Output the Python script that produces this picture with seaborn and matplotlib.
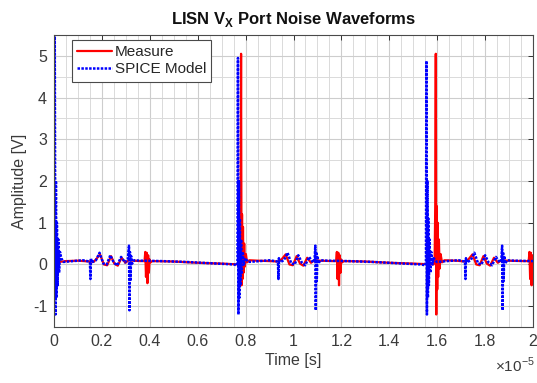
import numpy as np
import pandas as pd
import matplotlib
matplotlib.use("Agg")
import matplotlib.pyplot as plt
from matplotlib.ticker import MultipleLocator, FuncFormatter
import seaborn as sns

# Measured LISN V_X waveform (time in units of 10 us, amplitude in V)
t_measure = [
    0.000, 0.002, 0.004, 0.007, 0.010, 0.020, 0.050, 0.100, 0.150, 0.165,
    0.175, 0.192, 0.208, 0.222, 0.238, 0.252, 0.266, 0.282, 0.298, 0.312, 0.330, 0.360,
    0.378, 0.381, 0.384, 0.387, 0.390, 0.393, 0.396, 0.399, 0.403, 0.410,
    0.500, 0.600, 0.700, 0.772,
    0.776, 0.779, 0.781, 0.783, 0.785, 0.787, 0.789, 0.791, 0.794, 0.797, 0.801, 0.806,
    0.815, 0.850, 0.900, 0.935,
    0.950, 0.967, 0.983, 0.997, 1.013, 1.027, 1.041, 1.057, 1.073, 1.088, 1.110, 1.160,
    1.178, 1.181, 1.184, 1.187, 1.190, 1.193, 1.196, 1.199, 1.203, 1.210,
    1.300, 1.400, 1.500, 1.585,
    1.589, 1.592, 1.594, 1.596, 1.598, 1.600, 1.602, 1.604, 1.607, 1.610, 1.614, 1.620,
    1.630, 1.680, 1.715,
    1.730, 1.747, 1.763, 1.777, 1.793, 1.807, 1.821, 1.837, 1.853, 1.868, 1.890, 1.960,
    1.982, 1.985, 1.988, 1.991, 1.994, 1.997, 2.000,
]
v_measure = [
    0.60, -0.40, 0.30, -0.10, 0.10, 0.06, 0.08, 0.09, 0.07, 0.06,
    0.12, 0.24, 0.00, -0.02, 0.20, 0.02, -0.03, 0.16, 0.04, 0.10, 0.09, 0.08,
    0.08, 0.30, -0.30, 0.28, -0.45, 0.22, -0.20, 0.12, 0.05, 0.08,
    0.07, 0.04, 0.02, 0.00,
    0.05, 1.50, 5.05, -0.50, 1.20, -0.35, 0.90, -0.20, 0.50, -0.05, 0.25, 0.05,
    0.10, 0.09, 0.08, 0.07,
    0.12, 0.24, 0.00, -0.02, 0.20, 0.02, -0.03, 0.16, 0.04, 0.10, 0.09, 0.08,
    0.08, 0.30, -0.35, 0.28, -0.50, 0.22, -0.20, 0.12, 0.05, 0.08,
    0.07, 0.04, 0.02, 0.00,
    0.05, 1.50, 5.05, -1.20, 1.40, -0.60, 1.00, -0.30, 0.60, -0.10, 0.25, 0.05,
    0.10, 0.09, 0.07,
    0.12, 0.24, 0.00, -0.02, 0.20, 0.02, -0.03, 0.16, 0.04, 0.10, 0.09, 0.08,
    0.08, 0.30, -0.35, 0.28, -0.50, 0.22, -0.20,
]

# SPICE model of the same port
t_spice = [
    0.000, 0.003, 0.006, 0.008, 0.010, 0.012, 0.015, 0.018, 0.021, 0.025, 0.030, 0.040,
    0.080, 0.120, 0.148,
    0.150, 0.152, 0.154, 0.157,
    0.175, 0.190, 0.206, 0.220, 0.235, 0.250, 0.264, 0.280, 0.296, 0.308,
    0.313, 0.315, 0.317, 0.319, 0.322, 0.326, 0.335, 0.360,
    0.450, 0.550, 0.650, 0.750, 0.764,
    0.766, 0.768, 0.770, 0.772, 0.774, 0.776, 0.778, 0.781, 0.784, 0.788, 0.793, 0.798,
    0.810, 0.860, 0.900, 0.933,
    0.935, 0.937, 0.939, 0.942,
    0.960, 0.975, 0.991, 1.005, 1.020, 1.035, 1.049, 1.065, 1.081, 1.088,
    1.091, 1.093, 1.095, 1.097, 1.100, 1.104, 1.112, 1.140,
    1.230, 1.330, 1.430, 1.530, 1.551,
    1.553, 1.555, 1.557, 1.559, 1.561, 1.563, 1.565, 1.568, 1.571, 1.575, 1.580, 1.585,
    1.598, 1.640, 1.690, 1.714,
    1.716, 1.718, 1.720, 1.723,
    1.740, 1.755, 1.771, 1.785, 1.800, 1.815, 1.829, 1.845, 1.861, 1.868,
    1.871, 1.873, 1.875, 1.877, 1.880, 1.884, 1.892, 1.920, 2.000,
]
v_spice = [
    0.10, 5.60, -1.20, 2.00, -0.80, 1.00, -0.50, 0.60, -0.20, 0.30, 0.15, 0.06,
    0.08, 0.10, 0.07,
    0.05, -0.35, 0.15, 0.05,
    0.10, 0.28, 0.02, 0.00, 0.22, 0.04, -0.02, 0.18, 0.05, 0.12,
    0.45, -1.10, 0.30, -0.40, 0.20, 0.02, 0.10, 0.09,
    0.08, 0.06, 0.03, 0.00, -0.02,
    0.10, 4.95, -1.20, 2.00, -0.80, 1.10, -0.50, 0.60, -0.20, 0.30, 0.00, 0.15,
    0.06, 0.08, 0.10, 0.07,
    0.05, -0.35, 0.15, 0.05,
    0.10, 0.28, 0.02, 0.00, 0.22, 0.04, -0.02, 0.18, 0.05, 0.12,
    0.45, -1.10, 0.30, -0.40, 0.20, 0.02, 0.10, 0.09,
    0.08, 0.06, 0.03, 0.00, -0.02,
    0.10, 4.88, -1.20, 2.00, -0.80, 1.10, -0.50, 0.60, -0.20, 0.30, 0.00, 0.15,
    0.06, 0.08, 0.10, 0.07,
    0.05, -0.35, 0.15, 0.05,
    0.10, 0.28, 0.02, 0.00, 0.22, 0.04, -0.02, 0.18, 0.05, 0.12,
    0.45, -1.10, 0.30, -0.40, 0.20, 0.02, 0.10, 0.09, 0.08,
]

series_names = ["Measure", "SPICE Model"]
x_ticks = [0, 0.2, 0.4, 0.6, 0.8, 1.0, 1.2, 1.4, 1.6, 1.8, 2.0]
y_ticks = [-1, 0, 1, 2, 3, 4, 5]

TIME_SCALE = 1e-5

df = pd.concat([
    pd.DataFrame({"Time": np.array(t_measure) * TIME_SCALE, "Amplitude": v_measure,
                  "Series": series_names[0]}),
    pd.DataFrame({"Time": np.array(t_spice) * TIME_SCALE, "Amplitude": v_spice,
                  "Series": series_names[1]}),
], ignore_index=True)

sns.set_style("white")
plt.rcParams["font.family"] = ["Liberation Sans", "DejaVu Sans"]
plt.rcParams["axes.unicode_minus"] = False
plt.rcParams["mathtext.fontset"] = "custom"
plt.rcParams["mathtext.rm"] = "Liberation Sans"
plt.rcParams["mathtext.bf"] = "Liberation Sans:bold"

fig = plt.figure(figsize=(5.37, 3.83), dpi=100)
ax = fig.add_axes([0.1006, 0.1462, 0.892, 0.7624])

sns.lineplot(data=df[df["Series"] == series_names[0]], x="Time", y="Amplitude",
             sort=False, estimator=None, color="#ff0000", linewidth=1.6,
             label=series_names[0], ax=ax)
sns.lineplot(data=df[df["Series"] == series_names[1]], x="Time", y="Amplitude",
             sort=False, estimator=None, color="#0000ff", linewidth=1.8,
             dashes=False, label=series_names[1], ax=ax)
ax.lines[1].set_dashes((1.0, 0.55))

ax.set_xlim(0, 2 * TIME_SCALE)
ax.set_ylim(-1.5, 5.5)
ax.set_xticks([v * TIME_SCALE for v in x_ticks])
ax.xaxis.set_major_formatter(FuncFormatter(lambda x, _: f"{x / TIME_SCALE:g}"))
ax.set_yticks(y_ticks)
ax.xaxis.set_minor_locator(MultipleLocator(0.05 * TIME_SCALE))
ax.yaxis.set_minor_locator(MultipleLocator(0.5))

ax.grid(which="major", color="#cdcdcd", linewidth=0.8)
ax.grid(which="minor", color="#dadada", linewidth=0.7)
ax.set_axisbelow(True)

ax.tick_params(which="major", direction="in", length=3.5, width=0.7,
               top=True, right=True, colors="#333333", labelsize=11.5,
               labelcolor="#3a3a3a", pad=5)
ax.tick_params(which="minor", length=0)
for s in ax.spines.values():
    s.set_color("#4a4a4a")
    s.set_linewidth(0.8)

ax.set_xlabel("Time [s]", fontsize=11.5, color="#3a3a3a", labelpad=3)
ax.set_ylabel("Amplitude [V]", fontsize=11.5, color="#3a3a3a", labelpad=4)
ax.set_title(r"LISN V$_{\mathbf{X}}$ Port Noise Waveforms", fontsize=12,
             fontweight="bold", color="#111111", pad=8)
fig.text(0.995, 0.022, r"$\times 10^{-5}$", ha="right", va="bottom",
         fontsize=11, color="#3a3a3a")

leg = ax.legend(loc="upper left", bbox_to_anchor=(0.037, 0.983), fontsize=11,
                frameon=True, fancybox=False, framealpha=1, edgecolor="#4a4a4a",
                handlelength=2.3, handletextpad=0.15, borderpad=0.35,
                labelspacing=0.2, borderaxespad=0)
leg.get_frame().set_linewidth(0.8)

fig.savefig("out.png", dpi=100)
